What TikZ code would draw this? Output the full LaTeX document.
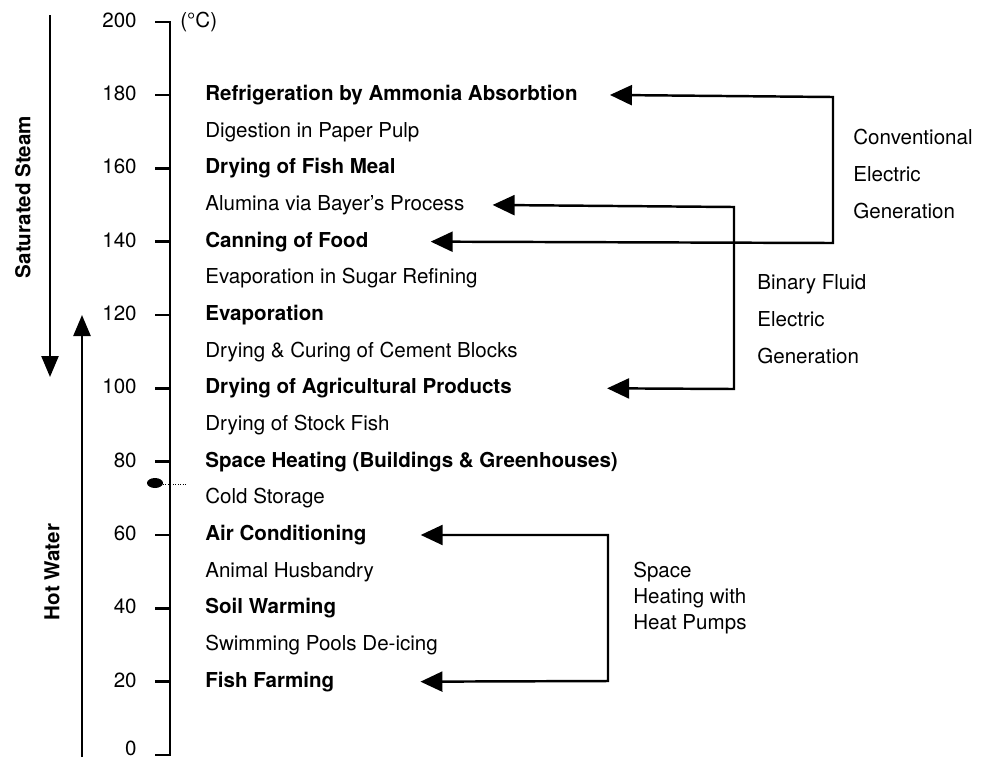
\documentclass[tikz,border=0pt]{standalone}
\usepackage{fontspec}
\setmainfont{TeX Gyre Heros}
\usetikzlibrary{arrows.meta,positioning}
\tikzset{
  item/.style={
    anchor=west, inner sep=0pt, text height=1.6ex, text depth=0.4ex,
    font=\fontsize{11.7}{14}\selectfont
  },
  bolditem/.style={item, font=\fontsize{11.7}{14}\selectfont\bfseries},
  ticklabel/.style={
    anchor=east, inner sep=0pt, text height=1.6ex, text depth=0.4ex,
    font=\fontsize{11.7}{14}\selectfont
  },
  note/.style={
    anchor=west, align=left, inner sep=0pt,
    font=\fontsize{11.7}{21}\selectfont
  },
  sidelabel/.style={rotate=90, inner sep=0pt, font=\fontsize{11.7}{14}\selectfont\bfseries},
  axis/.style={line width=1.6pt},
  arrow/.style={-{Triangle[length=4.2mm,width=3.4mm]}, line width=1.4pt},
  dblarrow/.style={{Triangle[length=4.4mm,width=4mm]}-{Triangle[length=4.4mm,width=4mm]}, line width=1.4pt}
}
\begin{document}
\begin{tikzpicture}[x=0.02cm, y=-0.02cm]
  \useasboundingbox (0,0) rectangle (981,762);

  % temperature scale
  \draw[axis] (155,22) -- (170,22) -- (170,755) -- (155,755);
  \foreach \t in {20,40,...,180}
    \draw[axis] (155,{755-3.667*\t}) -- (170,{755-3.667*\t});
  \foreach \t in {20,40,...,200}
    \node[ticklabel] (t\t) at (137,{755-3.667*\t}) {\t};
  \node[ticklabel] (t0) at (137,750) {0};
  \node[ticklabel, anchor=west] (unit) at (180,22) {(°C)};
  \fill (155,483) ellipse (8 and 5);
  \draw[densely dotted, thin] (163,484) -- (186,484);

  % steam / hot water ranges
  \coordinate (steamtop) at (50,15);
  \coordinate (steamend) at (50,377);
  \coordinate (hotbot) at (82,757);
  \coordinate (hotend) at (82,315);
  \draw[arrow] (steamtop) -- (steamend);
  \draw[arrow] (hotbot) -- (hotend);
  \node[sidelabel] (steam) at (23,197) {Saturated Steam};
  \node[sidelabel] (hot) at (52,572) {Hot Water};

  % applications
  \foreach \t/\txt in {180/{Refrigeration by Ammonia Absorbtion}, 160/{Drying of Fish Meal},
      140/{Canning of Food}, 120/{Evaporation}, 100/{Drying of Agricultural Products},
      80/{Space Heating (Buildings \& Greenhouses)}, 60/{Air Conditioning},
      40/{Soil Warming}, 20/{Fish Farming}}
    \node[bolditem] (a\t) at (205,{755-3.667*\t}) {\txt};
  \foreach \t/\txt in {170/{Digestion in Paper Pulp}, 150/{Alumina via Bayer's Process},
      130/{Evaporation in Sugar Refining}, 110/{Drying \& Curing of Cement Blocks},
      90/{Drying of Stock Fish}, 70/{Cold Storage}, 50/{Animal Husbandry},
      30/{Swimming Pools De-icing}}
    \node[item] (a\t) at (205,{755-3.667*\t}) {\txt};

  % generation brackets
  \coordinate (convtop) at (833,97);
  \coordinate (convbot) at (833,243);
  \coordinate (bintop) at (734,207);
  \coordinate (binbot) at (734,389);
  \coordinate (hptop) at (608,535);
  \coordinate (hpbot) at (608,681);

  \draw[dblarrow] ([shift={(32,0)}]a180.east) -- (convtop) -- (convbot) -- ([shift={(62,0)}]a140.east);
  \draw[dblarrow] ([shift={(28,0)}]a150.east) -- (bintop) -- (binbot) -- ([shift={(95,0)}]a100.east);
  \draw[dblarrow] ([shift={(54,0)}]a60.east) -- (hptop) -- (hpbot) -- ([shift={(86,0)}]a20.east);

  \node[note] (conv) at (853,174) {Conventional\\Electric\\Generation};
  \node[note] (binary) at (757,319) {Binary Fluid\\Electric\\Generation};
  \node[note, font=\fontsize{11.7}{15}\selectfont] (hp) at (633,598) {Space\\Heating with\\Heat Pumps};
\end{tikzpicture}
\end{document}
